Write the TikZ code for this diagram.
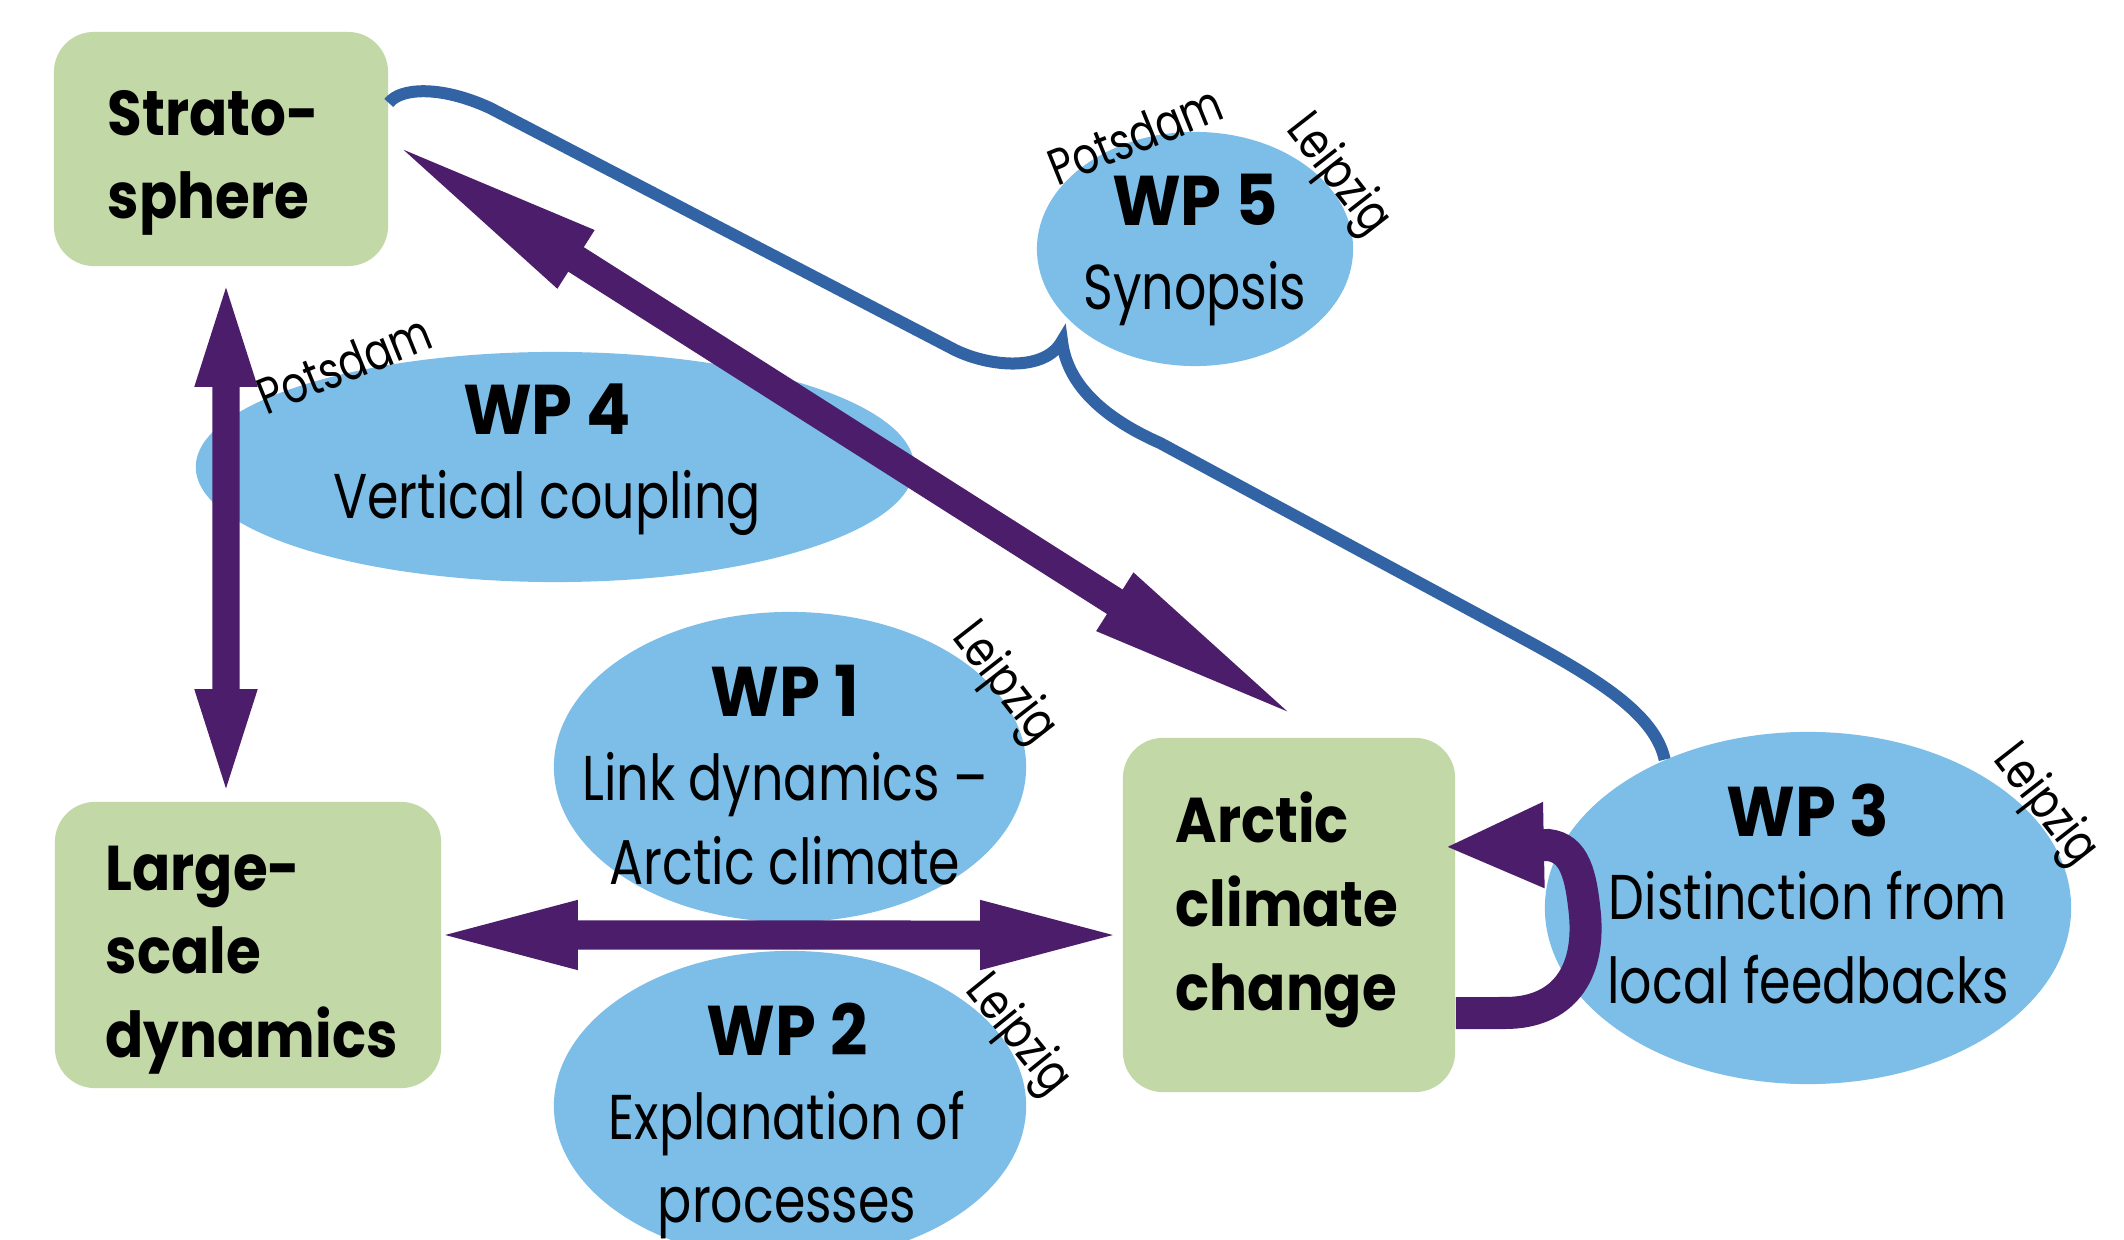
\documentclass[tikz,border=0pt]{standalone}
\usepackage{fontspec}
\setmainfont{Poppins}[FakeStretch=0.8]
\newfontfamily\wpf{Poppins}[FakeStretch=0.93]
\newfontfamily\boxf{Poppins}[FakeStretch=0.89]
\newcommand{\wpt}[1]{{\fontsize{20}{23.8}\selectfont\wpf\bfseries #1}}
\usetikzlibrary{arrows.meta,shapes.geometric,calc}
\definecolor{boxg}{HTML}{C2D8A6}
\definecolor{ellb}{HTML}{7DBEE8}
\definecolor{purp}{HTML}{4C1D6A}
\definecolor{bline}{HTML}{3264A5}
\tikzset{
  gbox/.style={rectangle, fill=boxg, draw=none, rounded corners=0.4cm, inner sep=0pt},
  ell/.style={ellipse, fill=ellb, draw=none, inner sep=0pt},
  btxt/.style={font=\fontsize{18}{23.8}\selectfont\boxf\bfseries, align=left, anchor=west, inner sep=0pt},
  etxt/.style={font=\fontsize{18}{23.8}\selectfont, align=center, inner sep=0pt},
  city/.style={font=\fontsize{14.5}{16}\selectfont, inner sep=0pt},
  dblarrow/.style={draw=purp, line width=0.27cm},
  fb/.style={draw=purp, line width=0.32cm, -{Triangle[length=1.0cm,width=0.78cm]}},
  bluecurve/.style={draw=bline, line width=0.12cm}
}
\begin{document}
\begin{tikzpicture}[x=0.01cm,y=-0.01cm]
\useasboundingbox[fill=white] (0,0) rectangle (2124,1240);
% ellipses
\node[ell, minimum width=7.18cm, minimum height=2.30cm] (wp4) at (555,467) {};
\node[ell, minimum width=3.16cm, minimum height=2.34cm] (wp5) at (1195,249) {};
\node[ell, minimum width=4.72cm, minimum height=3.10cm] (wp1) at (790,767) {};
\node[ell, minimum width=4.72cm, minimum height=3.10cm] (wp2) at (790,1106) {};
\node[ell, minimum width=5.26cm, minimum height=3.52cm] (wp3) at (1808,908) {};
% boxes
\node[gbox, minimum width=3.34cm, minimum height=2.34cm] (strat) at (221,149) {};
\node[gbox, minimum width=3.86cm, minimum height=2.86cm] (large) at (248,945) {};
\node[gbox, minimum width=3.32cm, minimum height=3.54cm] (arctic) at (1289,915) {};
% box texts
\node[btxt] (strattxt) at (107,163) {Strato-\\sphere};
\node[btxt] (largetxt) at (105,960) {Large-\\scale\\dynamics};
\node[btxt] (arctictxt) at (1175,910) {Arctic\\climate\\change};
% ellipse texts
\node[etxt] (wp4txt) at (547,460) {\wpt{WP 4}\\Vertical coupling};
\node[etxt] (wp5txt) at (1195,250) {\wpt{WP 5}\\Synopsis};
\node[etxt] (wp1txt) at (785,775) {\wpt{WP 1}\\Link dynamics --\\Arctic climate};
\node[etxt] (wp2txt) at (787,1121) {\wpt{WP 2}\\Explanation of\\processes};
\node[etxt] (wp3txt) at (1808,894) {\wpt{WP 3}\\Distinction from\\local feedbacks};
% city labels
\node[city, rotate=22] (p4) at (344,364) {Potsdam};
\node[city, rotate=22] (p5) at (1135,135) {Potsdam};
\node[city, rotate=-52] (l5) at (1337,176) {Leipzig};
\node[city, rotate=-52] (l1) at (1003,684) {Leipzig};
\node[city, rotate=-51] (l2) at (1017,1036) {Leipzig};
\node[city, rotate=-52] (l3) at (2044,806) {Leipzig};
% blue curve
\draw[bluecurve] ([yshift=0.46cm]strat.east) .. controls (400,88) and (440,85) .. (490,108)
  -- (955,350) .. controls (990,367) and (1045,372) .. (1062,341)
  .. controls (1066,375) and (1090,412) .. (1160,443)
  -- (1520,637) .. controls (1600,680) and (1655,715) .. (wp3.134);
% vertical arrow
\draw[dblarrow, {Triangle[length=1.15cm,width=0.53cm]}-{Triangle[length=1.15cm,width=0.53cm]}]
  ([xshift=0.05cm,yshift=-0.05cm]strat.south) -- ([xshift=-0.22cm,yshift=-0.03cm]large.north);
% diagonal arrow
\draw[dblarrow, line width=0.29cm, {Triangle[length=2.3cm,width=0.6cm]}-{Triangle[length=2.3cm,width=0.6cm]}]
  ([xshift=-0.07cm,yshift=0.13cm]strat.east) -- ([xshift=0.20cm,yshift=0.12cm]arctic.north);
% horizontal arrow
\draw[dblarrow, line width=0.29cm, {Triangle[length=1.5cm,width=0.6cm]}-{Triangle[length=1.5cm,width=0.6cm]}]
  ([xshift=-0.14cm,yshift=0.1cm]large.east) -- ([xshift=0.08cm,yshift=-0.2cm]arctic.west);
% feedback arrow
\draw[fb] ([yshift=-0.98cm]arctic.east) -- (1505,1013)
  .. controls (1562,1013) and (1590,975) .. (1585,915)
  .. controls (1581,875) and (1575,848) .. (1548,845) -- ([xshift=-0.12cm,yshift=0.68cm]arctic.east);
\end{tikzpicture}
\end{document}
